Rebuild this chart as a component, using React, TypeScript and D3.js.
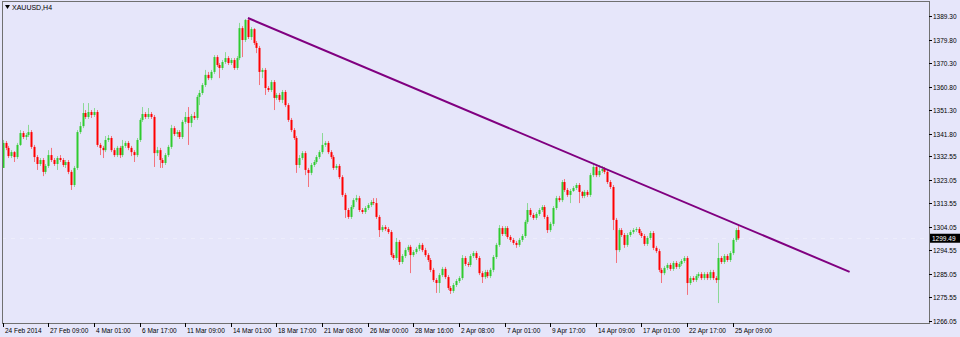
import React from "react";
import * as d3 from "d3";

// ---- data (XAUUSD H4, 24 Feb 2014 – 25 Apr 2014) ----
const symbolTitle = "XAUUSD,H4";
const firstOpen = 1327.9;
const closes = [
  1338.0, 1336.0, 1332.7, 1334.3, 1332.3, 1337.2, 1342.0, 1340.4, 1341.2, 1342.4,
  1336.4, 1332.3, 1329.5, 1331.1, 1326.3, 1328.7, 1333.1, 1331.1, 1329.5, 1331.9,
  1331.1, 1329.1, 1330.3, 1326.3, 1321.0, 1327.9, 1342.4, 1344.8, 1350.1, 1348.5,
  1350.5, 1349.3, 1350.5, 1337.2, 1336.0, 1335.1, 1339.2, 1340.0, 1335.1, 1333.1,
  1336.0, 1333.1, 1336.8, 1338.0, 1336.0, 1334.3, 1333.1, 1339.2, 1347.3, 1349.7,
  1348.5, 1349.7, 1348.5, 1333.9, 1335.1, 1331.1, 1329.9, 1333.1, 1336.4, 1344.0,
  1341.6, 1342.4, 1340.4, 1346.5, 1348.5, 1346.1, 1348.9, 1348.1, 1356.6, 1358.2,
  1361.4, 1365.5, 1364.2, 1366.7, 1372.7, 1369.5, 1368.3, 1370.7, 1372.3, 1370.3,
  1371.5, 1368.3, 1372.3, 1384.4, 1379.6, 1387.7, 1380.8, 1384.0, 1378.4, 1376.4,
  1366.7, 1367.5, 1360.2, 1359.4, 1362.6, 1356.2, 1357.4, 1355.4, 1358.6, 1353.3,
  1347.3, 1343.2, 1340.0, 1329.1, 1331.9, 1333.9, 1327.1, 1325.9, 1329.1, 1330.3,
  1332.3, 1334.3, 1337.2, 1338.0, 1334.3, 1332.3, 1327.9, 1328.7, 1324.2, 1317.0,
  1310.9, 1308.1, 1312.1, 1314.9, 1315.7, 1310.9, 1310.1, 1311.7, 1312.9, 1314.1,
  1313.7, 1308.1, 1302.8, 1304.0, 1303.2, 1302.0, 1292.7, 1291.5, 1298.0, 1289.9,
  1292.3, 1294.7, 1296.0, 1292.7, 1293.9, 1295.2, 1296.8, 1294.7, 1292.7, 1290.7,
  1286.7, 1282.6, 1281.4, 1284.6, 1287.1, 1283.8, 1279.4, 1278.2, 1280.6, 1282.2,
  1283.4, 1291.5, 1289.1, 1288.7, 1292.3, 1293.5, 1291.5, 1285.4, 1283.8, 1285.8,
  1284.2, 1286.7, 1291.9, 1296.8, 1303.6, 1301.2, 1303.6, 1300.0, 1298.8, 1297.6,
  1296.8, 1298.8, 1300.4, 1306.1, 1310.9, 1308.9, 1307.7, 1309.3, 1310.9, 1312.1,
  1308.1, 1302.8, 1305.3, 1311.7, 1315.7, 1314.9, 1322.2, 1319.0, 1317.0, 1318.6,
  1319.8, 1321.0, 1318.2, 1316.6, 1318.2, 1317.0, 1325.0, 1328.3, 1325.0, 1326.7,
  1327.5, 1326.3, 1322.2, 1320.2, 1306.9, 1294.7, 1302.8, 1300.8, 1296.8, 1300.8,
  1302.0, 1302.8, 1303.2, 1301.6, 1300.4, 1297.2, 1299.6, 1301.6, 1295.6, 1294.3,
  1286.7, 1285.4, 1287.5, 1288.7, 1287.1, 1289.5, 1287.9, 1289.1, 1290.3, 1291.5,
  1281.4, 1283.4, 1282.6, 1284.2, 1285.0, 1283.4, 1285.0, 1283.4, 1285.8, 1283.4,
  1282.6, 1291.5, 1289.9, 1292.3, 1290.7, 1293.5, 1298.8, 1302.8, 1299.49,
];
const highs = [
  1339.2, 1338.8, 1336.8, 1335.1, 1334.7, 1338.0, 1343.2, 1342.8, 1342.0, 1345.3,
  1343.2, 1337.2, 1333.1, 1331.9, 1331.9, 1329.5, 1335.1, 1336.0, 1331.9, 1332.7,
  1333.1, 1331.9, 1331.1, 1331.1, 1327.1, 1328.7, 1343.2, 1346.5, 1354.1, 1351.3,
  1354.1, 1351.3, 1352.1, 1351.3, 1338.0, 1336.8, 1340.8, 1341.2, 1340.8, 1336.0,
  1336.8, 1336.8, 1339.2, 1338.8, 1338.8, 1336.8, 1335.1, 1340.0, 1348.1, 1352.5,
  1350.5, 1352.1, 1350.5, 1349.3, 1336.4, 1336.0, 1331.9, 1333.9, 1337.2, 1345.3,
  1344.8, 1343.2, 1343.2, 1347.3, 1350.5, 1352.5, 1349.7, 1350.5, 1357.4, 1359.4,
  1362.2, 1367.5, 1366.7, 1367.5, 1373.5, 1373.5, 1370.3, 1371.5, 1374.7, 1373.1,
  1372.3, 1372.3, 1373.1, 1386.5, 1385.2, 1388.1, 1388.5, 1384.8, 1384.4, 1379.2,
  1377.2, 1368.3, 1368.3, 1361.0, 1363.4, 1363.4, 1358.2, 1358.2, 1359.4, 1359.4,
  1354.1, 1348.1, 1344.0, 1340.8, 1333.1, 1334.7, 1334.7, 1327.9, 1329.9, 1331.1,
  1333.1, 1335.1, 1342.0, 1338.8, 1338.8, 1335.1, 1333.1, 1329.5, 1329.5, 1325.0,
  1317.8, 1311.7, 1312.9, 1315.7, 1317.0, 1316.6, 1311.7, 1312.5, 1313.7, 1314.9,
  1315.7, 1315.7, 1308.9, 1304.8, 1304.8, 1304.0, 1302.8, 1293.5, 1299.6, 1298.8,
  1293.1, 1295.6, 1296.8, 1296.8, 1294.7, 1296.0, 1297.6, 1297.6, 1295.6, 1293.5,
  1291.5, 1287.5, 1283.4, 1285.4, 1287.9, 1287.9, 1284.6, 1280.2, 1281.4, 1283.0,
  1284.2, 1292.7, 1292.3, 1289.9, 1293.1, 1294.3, 1294.3, 1292.3, 1286.2, 1286.7,
  1286.7, 1287.5, 1292.7, 1297.6, 1304.8, 1304.4, 1304.4, 1304.4, 1300.8, 1299.6,
  1298.4, 1299.6, 1301.2, 1306.9, 1313.7, 1311.7, 1309.7, 1310.1, 1311.7, 1312.9,
  1312.9, 1308.9, 1306.1, 1312.5, 1316.6, 1316.6, 1323.0, 1323.4, 1319.8, 1319.4,
  1320.6, 1321.8, 1321.8, 1318.6, 1319.0, 1319.0, 1325.9, 1329.9, 1329.1, 1329.1,
  1328.7, 1328.3, 1327.1, 1323.0, 1321.0, 1307.7, 1303.6, 1303.6, 1301.6, 1301.6,
  1302.8, 1303.6, 1304.0, 1304.0, 1302.4, 1301.2, 1300.4, 1302.4, 1302.4, 1296.4,
  1295.2, 1287.5, 1288.3, 1289.5, 1289.5, 1290.3, 1290.3, 1289.9, 1291.1, 1292.3,
  1292.3, 1284.2, 1284.2, 1285.0, 1285.8, 1285.8, 1285.8, 1285.8, 1286.7, 1286.7,
  1284.2, 1297.6, 1292.3, 1293.1, 1293.1, 1294.3, 1299.6, 1303.6, 1304.8,
];
const lows = [
  1330.7, 1335.1, 1331.9, 1331.9, 1330.3, 1331.5, 1336.8, 1339.6, 1339.2, 1340.4,
  1335.6, 1330.3, 1327.1, 1328.7, 1324.6, 1325.4, 1327.9, 1330.3, 1328.7, 1327.1,
  1330.3, 1328.3, 1327.9, 1325.4, 1319.0, 1320.2, 1327.1, 1341.6, 1344.0, 1347.7,
  1347.7, 1348.1, 1348.5, 1336.4, 1333.1, 1331.9, 1334.3, 1338.4, 1334.3, 1332.3,
  1332.3, 1331.9, 1332.3, 1336.0, 1335.1, 1332.7, 1330.3, 1332.3, 1338.4, 1346.5,
  1347.7, 1347.7, 1347.7, 1328.3, 1332.7, 1327.9, 1327.9, 1329.1, 1332.3, 1335.6,
  1340.8, 1340.4, 1339.6, 1339.6, 1345.7, 1337.2, 1344.4, 1347.3, 1347.3, 1353.3,
  1357.4, 1360.6, 1363.4, 1363.4, 1365.9, 1368.7, 1364.2, 1367.5, 1369.9, 1369.5,
  1369.5, 1367.5, 1367.5, 1371.5, 1372.7, 1378.8, 1380.0, 1379.6, 1377.6, 1374.3,
  1361.4, 1364.2, 1357.4, 1358.6, 1358.6, 1351.3, 1355.4, 1354.5, 1354.1, 1352.5,
  1346.5, 1342.4, 1339.2, 1325.9, 1327.9, 1331.1, 1325.0, 1320.2, 1325.0, 1328.3,
  1329.5, 1331.5, 1333.5, 1336.4, 1333.5, 1331.5, 1327.1, 1327.1, 1323.4, 1316.2,
  1307.7, 1307.3, 1307.3, 1311.3, 1314.1, 1310.1, 1309.3, 1309.3, 1310.9, 1312.1,
  1312.9, 1307.3, 1300.0, 1302.0, 1302.4, 1301.2, 1291.9, 1290.7, 1290.7, 1288.7,
  1289.1, 1291.5, 1293.9, 1285.4, 1291.9, 1293.1, 1294.3, 1293.9, 1291.9, 1289.9,
  1285.8, 1281.8, 1277.4, 1277.4, 1283.8, 1283.0, 1278.6, 1277.0, 1277.4, 1279.8,
  1281.4, 1282.6, 1288.3, 1287.9, 1287.9, 1291.5, 1290.7, 1284.6, 1281.4, 1283.0,
  1283.4, 1283.4, 1285.8, 1291.1, 1296.0, 1300.4, 1300.4, 1299.2, 1298.0, 1296.8,
  1295.6, 1296.0, 1298.0, 1299.6, 1305.3, 1308.1, 1306.9, 1306.9, 1308.5, 1310.1,
  1307.3, 1301.6, 1302.0, 1304.4, 1310.9, 1314.1, 1314.1, 1318.2, 1316.2, 1313.7,
  1318.2, 1319.0, 1313.7, 1315.7, 1315.7, 1316.2, 1316.2, 1324.2, 1324.2, 1324.2,
  1325.9, 1325.4, 1321.4, 1319.4, 1302.8, 1289.5, 1293.9, 1300.0, 1295.6, 1296.0,
  1300.0, 1301.2, 1302.0, 1300.8, 1299.6, 1296.4, 1296.4, 1298.8, 1294.7, 1293.5,
  1285.8, 1281.4, 1284.6, 1286.7, 1286.3, 1286.3, 1287.1, 1287.1, 1288.3, 1289.5,
  1276.6, 1280.6, 1281.8, 1281.8, 1283.4, 1282.6, 1282.6, 1282.6, 1282.6, 1282.6,
  1281.4, 1273.3, 1289.1, 1289.1, 1289.9, 1289.9, 1292.7, 1298.0, 1298.8,
];

const timeLabels = [
  "24 Feb 2014", "27 Feb 09:00", "4 Mar 01:00", "6 Mar 17:00", "11 Mar 09:00",
  "14 Mar 01:00", "18 Mar 17:00", "21 Mar 08:00", "26 Mar 00:00", "28 Mar 16:00",
  "2 Apr 08:00", "7 Apr 01:00", "9 Apr 17:00", "14 Apr 09:00", "17 Apr 01:00",
  "22 Apr 17:00", "25 Apr 09:00",
];
const barsPerLabel = 16;
const priceTicks = [
  1389.3, 1379.8, 1370.3, 1360.8, 1351.3, 1341.8, 1332.55, 1323.05, 1313.55,
  1304.05, 1294.55, 1285.05, 1275.55, 1266.05,
];
const bidPrice = 1299.49;
const trendBars = [86, 297];
const trendPrices = [1388.5, 1285.9];

// ---- layout ----
const W = 960;
const H = 337;
const frame = { left: 2, top: 1, right: 929, bottom: 323 };

const BG = "#E6E6FA";
const UP = "#2FCB2F";
const DOWN = "#FF0000";
const FONT = "'Liberation Sans', Arial, sans-serif";

export default function App() {
  const x = d3.scaleLinear().domain([0, 256]).range([2.7, 732.7]);
  const y = d3.scaleLinear().domain([1266.05, 1389.3]).range([321, 16]);

  const candles = closes.map((c, i) => {
    const o = i === 0 ? firstOpen : closes[i - 1];
    const h = Math.max(highs[i], o, c);
    const l = Math.min(lows[i], o, c);
    return { i, o, c, h, l };
  });

  const trendLine = d3
    .line<number>()
    .x((b) => x(b))
    .y((_, k) => y(trendPrices[k]));

  return (
    <svg
      width={W}
      height={H}
      style={{ position: "fixed", left: 0, top: 0, display: "block" }}
      fontFamily={FONT}
    >
      <rect x={0} y={0} width={W} height={H} fill={BG} />

      {/* bid line */}
      <line
        x1={frame.left}
        x2={frame.right}
        y1={Math.round(y(bidPrice)) + 0.5}
        y2={Math.round(y(bidPrice)) + 0.5}
        stroke="#ffffff"
        strokeOpacity={0.3}
        strokeDasharray="4 5"
      />

      {/* candles */}
      <g>
        {candles.map((d) => {
          const cx = Math.round(x(d.i));
          const up = d.c >= d.o;
          const col = up ? UP : DOWN;
          const yTop = y(Math.max(d.o, d.c));
          const yBot = y(Math.min(d.o, d.c));
          return (
            <g key={d.i}>
              <line
                x1={cx + 0.5}
                x2={cx + 0.5}
                y1={y(d.h)}
                y2={y(d.l)}
                stroke={col}
                strokeOpacity={0.5}
                strokeWidth={1}
              />
              <rect
                x={cx - 0.5}
                y={yTop}
                width={2}
                height={Math.max(1, yBot - yTop)}
                fill={col}
              />
            </g>
          );
        })}
      </g>

      {/* trend line */}
      <path
        d={trendLine(trendBars) || ""}
        fill="none"
        stroke="#800080"
        strokeWidth={2}
      />

      {/* frame */}
      <rect
        x={frame.left + 0.5}
        y={frame.top + 0.5}
        width={frame.right - frame.left}
        height={frame.bottom - frame.top}
        fill="none"
        stroke="#707070"
        strokeWidth={1}
      />

      {/* title */}
      <path d="M5,5 L10,5 L7.5,9 Z" fill="#000" />
      <text x={12} y={10} fontSize={7} fill="#000">
        {symbolTitle}
      </text>

      {/* price axis */}
      <g>
        {priceTicks.map((p) => {
          const py = Math.round(y(p)) + 0.5;
          return (
            <g key={p}>
              <line x1={frame.right} x2={frame.right + 3} y1={py} y2={py} stroke="#000" />
              <text x={933} y={py} dy="0.35em" fontSize={6.5} fill="#000">
                {p.toFixed(2)}
              </text>
            </g>
          );
        })}
        <rect x={930} y={y(bidPrice) - 4.5} width={30} height={9} fill="#000" />
        <text x={932} y={y(bidPrice)} dy="0.35em" fontSize={6.5} fill="#fff">
          {bidPrice.toFixed(2)}
        </text>
      </g>

      {/* time axis */}
      <g>
        {timeLabels.map((t, k) => {
          const tx = Math.round(x(k * barsPerLabel)) + 0.5;
          return (
            <g key={t}>
              <line x1={tx} x2={tx} y1={frame.bottom} y2={frame.bottom + 4} stroke="#000" />
              <text x={tx + 1.5} y={333} fontSize={6.5} fill="#000">
                {t}
              </text>
            </g>
          );
        })}
      </g>
    </svg>
  );
}
